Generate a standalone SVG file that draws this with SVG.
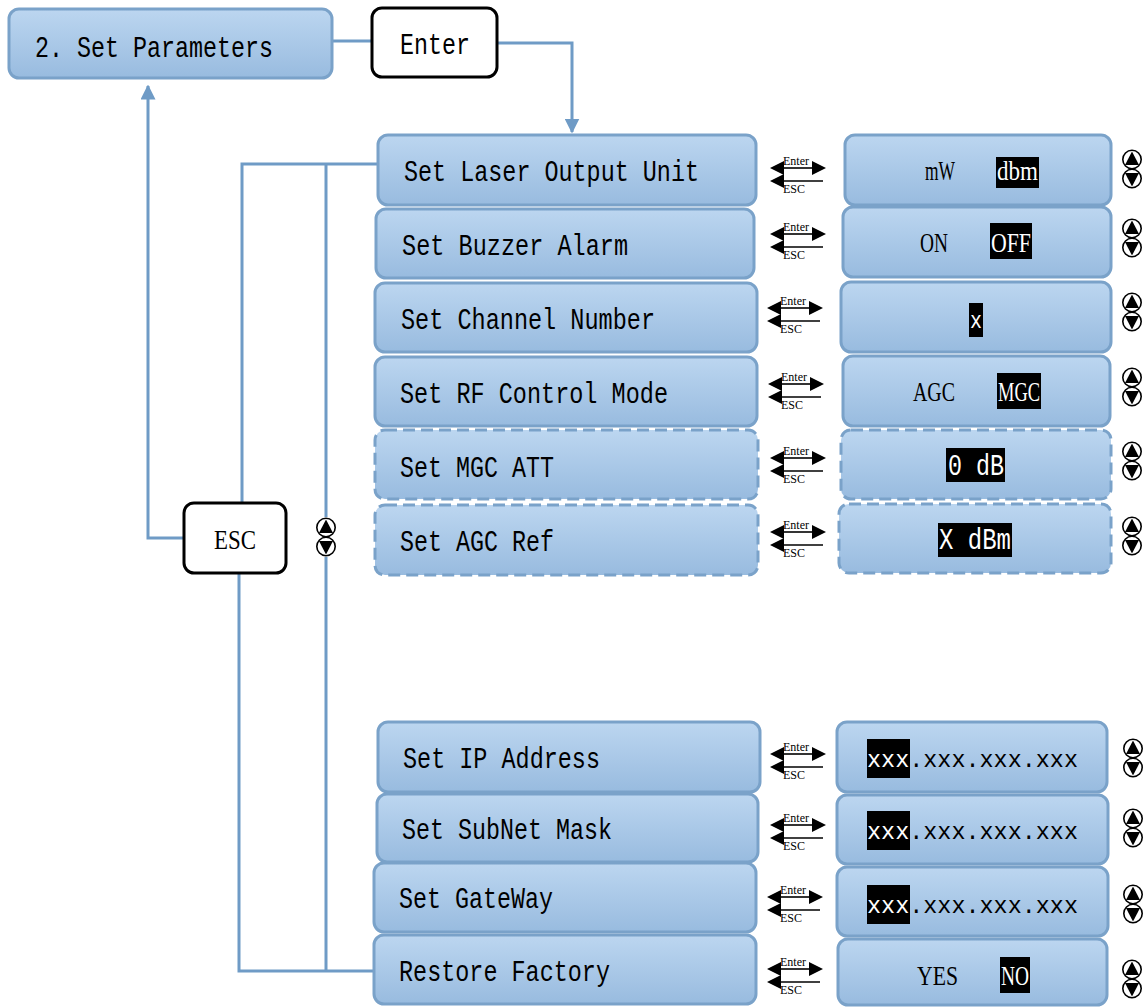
<svg xmlns="http://www.w3.org/2000/svg" xmlns:xlink="http://www.w3.org/1999/xlink" width="1145" height="1007" viewBox="0 0 1145 1007">
<defs>
<linearGradient id="g" x1="0" y1="0" x2="0" y2="1">
<stop offset="0" stop-color="#bcd6f0"/>
<stop offset="1" stop-color="#98bbdf"/>
</linearGradient>
<marker id="ah" viewBox="0 0 10 10" refX="9" refY="5" markerWidth="5" markerHeight="5" orient="auto" markerUnits="strokeWidth">
<path d="M0,0 L10,5 L0,10 z" fill="#6f9bc6"/>
</marker>
<g id="ee">
<path d="M13,0 H42" stroke="#000" stroke-width="1.6"/>
<path d="M13,13 H53" stroke="#000" stroke-width="1.6"/>
<path d="M0,0 L14,-7 L14,7 z" fill="#000"/>
<path d="M0,13 L14,6 L14,20 z" fill="#000"/>
<path d="M56,0 L42,-7 L42,7 z" fill="#000"/>
<text x="13" y="-3" font-family="Liberation Serif, serif" font-size="12">Enter</text>
<text x="13" y="25" font-family="Liberation Serif, serif" font-size="12">ESC</text>
</g>
<g id="ud">
<circle cx="0" cy="-9.5" r="9.2" fill="#fff" stroke="#000" stroke-width="1.6"/>
<circle cx="0" cy="9.5" r="9.2" fill="#fff" stroke="#000" stroke-width="1.6"/>
<path d="M0,-17.5 L7,-4 L-7,-4 z" fill="#000"/>
<path d="M0,17.5 L7,4 L-7,4 z" fill="#000"/>
</g>
</defs>
<style>
.b{fill:url(#g);stroke:#7aa2c9;stroke-width:3}
.d{fill:url(#g);stroke:#7aa2c9;stroke-width:3;stroke-dasharray:12 6}
.w{fill:#fff;stroke:#000;stroke-width:3}
.c{fill:none;stroke:#6f9bc6;stroke-width:3}
.m{font-family:"Liberation Mono",monospace;font-size:30px;fill:#000}
.s{font-family:"Liberation Serif",serif;font-size:27px;fill:#000}
.x{font-family:"Liberation Mono",monospace;font-size:23px;fill:#000}
.wt{fill:#fff}
</style>
<rect width="1145" height="1007" fill="#fff"/>
<g id="connectors">
<path class="c" d="M332,41 H372"/>
<path class="c" d="M497,43 H572 V132" marker-end="url(#ah)"/>
<path class="c" d="M184,538 H148 V86" marker-end="url(#ah)"/>
<path class="c" d="M242,503 V164 H378"/>
<path class="c" d="M326,164 V517"/>
<path class="c" d="M326,557 V971"/>
<path class="c" d="M239,573 V971 H374"/>
</g>
<g id="n-setparam">
<rect class="b" x="9" y="9" width="323" height="69" rx="10"/>
<text class="m" x="35" y="57" textLength="238" lengthAdjust="spacingAndGlyphs">2. Set Parameters</text>
</g>
<g id="n-enter">
<rect class="w" x="372" y="8" width="125" height="69" rx="10"/>
<text class="m" x="400" y="54" textLength="70" lengthAdjust="spacingAndGlyphs">Enter</text>
</g>
<g id="n-esc">
<rect class="w" x="184" y="503" width="102" height="70" rx="10"/>
<text class="s" x="214" y="549" font-size="30" textLength="42" lengthAdjust="spacingAndGlyphs">ESC</text>
</g>
<use xlink:href="#ud" x="326" y="537"/>

<g id="n-laser">
<rect class="b" x="378" y="135" width="378" height="70" rx="10"/>
<text class="m" x="404" y="181" textLength="295" lengthAdjust="spacingAndGlyphs">Set Laser Output Unit</text>
</g>
<g id="n-buzzer">
<rect class="b" x="376" y="209" width="378" height="69" rx="10"/>
<text class="m" x="402" y="255" textLength="226" lengthAdjust="spacingAndGlyphs">Set Buzzer Alarm</text>
</g>
<g id="n-channel">
<rect class="b" x="375" y="283" width="382" height="69" rx="10"/>
<text class="m" x="401" y="329" textLength="254" lengthAdjust="spacingAndGlyphs">Set Channel Number</text>
</g>
<g id="n-rf">
<rect class="b" x="375" y="357" width="382" height="69" rx="10"/>
<text class="m" x="400" y="403" textLength="268" lengthAdjust="spacingAndGlyphs">Set RF Control Mode</text>
</g>
<g id="n-mgc">
<rect class="d" x="375" y="430" width="383" height="69" rx="10"/>
<text class="m" x="400" y="477" textLength="154" lengthAdjust="spacingAndGlyphs">Set MGC ATT</text>
</g>
<g id="n-agc">
<rect class="d" x="375" y="505" width="383" height="70" rx="10"/>
<text class="m" x="400" y="551" textLength="154" lengthAdjust="spacingAndGlyphs">Set AGC Ref</text>
</g>
<g id="n-ip">
<rect class="b" x="378" y="722" width="382" height="70" rx="10"/>
<text class="m" x="403" y="768" textLength="197" lengthAdjust="spacingAndGlyphs">Set IP Address</text>
</g>
<g id="n-subnet">
<rect class="b" x="377" y="794" width="381" height="68" rx="10"/>
<text class="m" x="402" y="839" textLength="210" lengthAdjust="spacingAndGlyphs">Set SubNet Mask</text>
</g>
<g id="n-gateway">
<rect class="b" x="374" y="863" width="382" height="69" rx="10"/>
<text class="m" x="399" y="908" textLength="154" lengthAdjust="spacingAndGlyphs">Set GateWay</text>
</g>
<g id="n-restore">
<rect class="b" x="374" y="935" width="382" height="69" rx="10"/>
<text class="m" x="399" y="981" textLength="211" lengthAdjust="spacingAndGlyphs">Restore Factory</text>
</g>

<g id="v-laser">
<rect class="b" x="845" y="135" width="266" height="70" rx="10"/>
<text class="s" x="925" y="180" textLength="30" lengthAdjust="spacingAndGlyphs">mW</text>
<rect x="996" y="157" width="43" height="31" fill="#000"/>
<text class="s wt" x="997" y="180" textLength="41" lengthAdjust="spacingAndGlyphs">dbm</text>
</g>
<g id="v-buzzer">
<rect class="b" x="843" y="207" width="268" height="70" rx="10"/>
<text class="s" x="920" y="252" textLength="28" lengthAdjust="spacingAndGlyphs">ON</text>
<rect x="990" y="223" width="42" height="36" fill="#000"/>
<text class="s wt" x="991" y="252" textLength="40" lengthAdjust="spacingAndGlyphs">OFF</text>
</g>
<g id="v-channel">
<rect class="b" x="841" y="282" width="270" height="70" rx="10"/>
<rect x="969" y="303" width="14" height="34" fill="#000"/>
<text class="x wt" x="970" y="328" textLength="12" lengthAdjust="spacingAndGlyphs">x</text>
</g>
<g id="v-rf">
<rect class="b" x="843" y="356" width="267" height="70" rx="10"/>
<text class="s" x="913" y="401" textLength="42" lengthAdjust="spacingAndGlyphs">AGC</text>
<rect x="997" y="373" width="44" height="36" fill="#000"/>
<text class="s wt" x="998" y="401" textLength="42" lengthAdjust="spacingAndGlyphs">MGC</text>
</g>
<g id="v-mgc">
<rect class="d" x="841" y="430" width="270" height="69" rx="10"/>
<rect x="946" y="448" width="59" height="34" fill="#000"/>
<text class="m wt" x="948" y="475" textLength="56" lengthAdjust="spacingAndGlyphs">0 dB</text>
</g>
<g id="v-agc">
<rect class="d" x="839" y="504" width="272" height="69" rx="10"/>
<rect x="938" y="523" width="74" height="34" fill="#000"/>
<text class="m wt" x="939" y="549" textLength="72" lengthAdjust="spacingAndGlyphs">X dBm</text>
</g>
<g id="v-ip">
<rect class="b" x="837" y="722" width="270" height="70" rx="10"/>
<rect x="867" y="739" width="43" height="39" fill="#000"/>
<text class="x" x="867" y="767" textLength="211" lengthAdjust="spacingAndGlyphs"><tspan fill="#fff">xxx</tspan>.xxx.xxx.xxx</text>
</g>
<g id="v-subnet">
<rect class="b" x="837" y="795" width="271" height="69" rx="10"/>
<rect x="867" y="811" width="43" height="39" fill="#000"/>
<text class="x" x="867" y="839" textLength="211" lengthAdjust="spacingAndGlyphs"><tspan fill="#fff">xxx</tspan>.xxx.xxx.xxx</text>
</g>
<g id="v-gateway">
<rect class="b" x="837" y="867" width="271" height="69" rx="10"/>
<rect x="867" y="885" width="43" height="39" fill="#000"/>
<text class="x" x="867" y="913" textLength="211" lengthAdjust="spacingAndGlyphs"><tspan fill="#fff">xxx</tspan>.xxx.xxx.xxx</text>
</g>
<g id="v-restore">
<rect class="b" x="838" y="939" width="269" height="66" rx="10"/>
<text class="s" x="917" y="985" textLength="41" lengthAdjust="spacingAndGlyphs">YES</text>
<rect x="1000" y="957" width="30" height="36" fill="#000"/>
<text class="s wt" x="1001" y="985" textLength="28" lengthAdjust="spacingAndGlyphs">NO</text>
</g>

<g id="enter-esc">
<use xlink:href="#ee" x="770" y="168"/>
<use xlink:href="#ee" x="770" y="234"/>
<use xlink:href="#ee" x="767" y="308"/>
<use xlink:href="#ee" x="768" y="384"/>
<use xlink:href="#ee" x="770" y="458"/>
<use xlink:href="#ee" x="770" y="532"/>
<use xlink:href="#ee" x="770" y="754"/>
<use xlink:href="#ee" x="770" y="825"/>
<use xlink:href="#ee" x="767" y="897"/>
<use xlink:href="#ee" x="767" y="969"/>
</g>
<g id="updown">
<use xlink:href="#ud" x="1132" y="169"/>
<use xlink:href="#ud" x="1132" y="238"/>
<use xlink:href="#ud" x="1132" y="312"/>
<use xlink:href="#ud" x="1132" y="387"/>
<use xlink:href="#ud" x="1132" y="461"/>
<use xlink:href="#ud" x="1132" y="536"/>
<use xlink:href="#ud" x="1133" y="758"/>
<use xlink:href="#ud" x="1133" y="828"/>
<use xlink:href="#ud" x="1133" y="904"/>
<use xlink:href="#ud" x="1132" y="979"/>
</g>
</svg>
